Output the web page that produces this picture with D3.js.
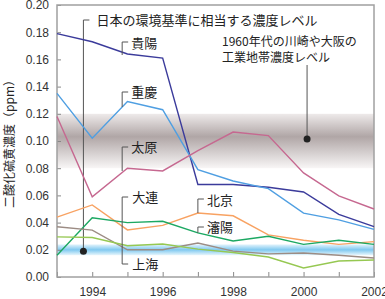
<!DOCTYPE html>
<html>
<head>
<meta charset="utf-8">
<script src="https://cdn.jsdelivr.net/npm/d3@7"></script>
<style>
  body { margin: 0; background: #fff; }
  svg text { font-family: "Liberation Sans", Arial, sans-serif; fill: #333; }
  .jp { font-family: "Noto Sans CJK JP", sans-serif; fill: #222; }
</style>
</head>
<body>
<div id="chart"></div>
<script>
var years = [1993, 1994, 1995, 1996, 1997, 1998, 1999, 2000, 2001, 2002];

var guiyang   = [0.179, 0.173, 0.164, 0.161, 0.068, 0.068, 0.066, 0.0625, 0.046, 0.037];
var chongqing = [0.135, 0.102, 0.129, 0.123, 0.079, 0.0706, 0.065, 0.047, 0.042, 0.035];
var taiyuan   = [0.118, 0.059, 0.080, 0.078, 0.093, 0.1066, 0.104, 0.0765, 0.0596, 0.050];
var beijing   = [0.044, 0.053, 0.0346, 0.038, 0.047, 0.045, 0.031, 0.027, 0.024, 0.026];
var shenyang  = [0.016, 0.0435, 0.040, 0.041, 0.0324, 0.0265, 0.030, 0.024, 0.027, 0.024];
var dalian    = [0.037, 0.0345, 0.020, 0.020, 0.025, 0.019, 0.017, 0.0176, 0.016, 0.014];
var shanghai  = [0.0295, 0.029, 0.023, 0.0243, 0.0205, 0.018, 0.0147, 0.0066, 0.0118, 0.0125];

var seriesNames = ["貴陽", "重慶", "太原", "北京", "瀋陽", "大連", "上海"];
var seriesValues = [guiyang, chongqing, taiyuan, beijing, shenyang, dalian, shanghai];
var seriesColors = ["#3b3b9b", "#4f9fe2", "#c66890", "#f8a262", "#1ca862", "#9c8c84", "#96c852"];

var yTicks = [0, 0.02, 0.04, 0.06, 0.08, 0.10, 0.12, 0.14, 0.16, 0.18, 0.20];
var xLabelYears = [1994, 1996, 1998, 2000, 2002];

var japanBand = [0.016, 0.024];
var kawasakiBand = [0.08, 0.12];

var W = 385, H = 299;
var margin = {top: 5, right: 11, bottom: 22, left: 57},
    width = W - margin.left - margin.right,
    height = H - margin.top - margin.bottom;

var x = d3.scaleLinear().domain([1993, 2002]).range([0, width]);
var y = d3.scaleLinear().domain([0, 0.2]).range([height, 0]);

var svg = d3.select("#chart").append("svg")
    .attr("width", W)
    .attr("height", H);

var defs = svg.append("defs");

var g1 = defs.append("linearGradient").attr("id", "greyBand")
    .attr("x1", 0).attr("y1", 0).attr("x2", 0).attr("y2", 1);
g1.append("stop").attr("offset", "0%").attr("stop-color", "#eeeaea");
g1.append("stop").attr("offset", "42%").attr("stop-color", "#b0a6a6");
g1.append("stop").attr("offset", "100%").attr("stop-color", "#f8f6f6");

var g2 = defs.append("linearGradient").attr("id", "blueBand")
    .attr("x1", 0).attr("y1", 0).attr("x2", 0).attr("y2", 1);
g2.append("stop").attr("offset", "0%").attr("stop-color", "#e4f4fc");
g2.append("stop").attr("offset", "50%").attr("stop-color", "#80c9f0");
g2.append("stop").attr("offset", "100%").attr("stop-color", "#e8f6fc");

var plot = svg.append("g")
    .attr("transform", "translate(" + margin.left + "," + margin.top + ")");

// bands
plot.append("rect")
    .attr("x", 0).attr("width", width)
    .attr("y", y(kawasakiBand[1])).attr("height", y(kawasakiBand[0]) - y(kawasakiBand[1]))
    .style("fill", "url(#greyBand)");
plot.append("rect")
    .attr("x", 0).attr("width", width)
    .attr("y", y(japanBand[1])).attr("height", y(japanBand[0]) - y(japanBand[1]))
    .style("fill", "url(#blueBand)");

// axes
var yAxis = plot.append("g")
    .call(d3.axisLeft(y).tickValues(yTicks).tickSizeInner(-4).tickSizeOuter(0).tickPadding(8)
      .tickFormat(d3.format(".2f")));
yAxis.select(".domain").remove();
yAxis.selectAll("line").attr("stroke", "#888");
yAxis.selectAll("text").style("font-size", "12px").attr("fill", "#333");

var xAxis = plot.append("g")
    .attr("transform", "translate(0," + height + ")")
    .call(d3.axisBottom(x).tickValues(years).tickSizeInner(-5).tickSizeOuter(0).tickPadding(10)
      .tickFormat(function(d) { return xLabelYears.indexOf(d) >= 0 ? d : ""; }));
xAxis.select(".domain").remove();
xAxis.selectAll("line").attr("stroke", "#888");
xAxis.selectAll("text").style("font-size", "12px").attr("fill", "#333");

// frame
plot.append("rect")
    .attr("x", 0).attr("y", 0).attr("width", width).attr("height", height)
    .attr("fill", "none").attr("stroke", "#a0a0a0").attr("stroke-width", 1.5);

// leader helper
function leader(pts) {
  plot.append("path")
    .attr("d", d3.line()(pts))
    .attr("fill", "none").attr("stroke", "#555").attr("stroke-width", 1);
}

// annotation leaders
leader([[x(1993.75) + 6, 15], [x(1993.75), 15], [x(1993.75), y(0.019)]]);
plot.append("circle").attr("cx", x(1993.75)).attr("cy", y(0.019)).attr("r", 3.5).attr("fill", "#222");
leader([[x(2000.1), 60], [x(2000.1), y(0.1015)]]);
plot.append("circle").attr("cx", x(2000.1)).attr("cy", y(0.1015)).attr("r", 3.5).attr("fill", "#222");

// lines
var line = d3.line()
    .x(function(d, i) { return x(years[i]); })
    .y(function(d) { return y(d); });

seriesValues.forEach(function(vals, k) {
  plot.append("path")
    .datum(vals)
    .attr("d", line)
    .attr("fill", "none")
    .attr("stroke", seriesColors[k])
    .attr("stroke-width", 1.4);
});

// series label leaders
var lx1 = x(1994.85), lx2 = x(1997.0);
leader([[lx1 + 6, 37], [lx1, 37], [lx1, 50]]);
leader([[lx1 + 6, 87], [lx1, 87], [lx1, 102]]);
leader([[lx1 + 6, 142], [lx1, 142], [lx1, 166]]);
leader([[lx1 + 6, 192], [lx1, 192], [lx1, 259], [lx1 + 6, 259]]);
leader([[lx2 + 6, 194], [lx2, 194], [lx2, 208]]);
leader([[lx2 + 6, 222], [lx2, 222], [lx2, 228]]);

function label(txt, px, py, size) {
  plot.append("text").attr("class", "jp")
    .attr("x", px).attr("y", py)
    .attr("dy", "0.35em")
    .style("font-size", size + "px")
    .text(txt);
}
label(seriesNames[0], lx1 + 9, 38, 13);
label(seriesNames[1], lx1 + 9, 87, 13);
label(seriesNames[2], lx1 + 9, 142, 13);
label(seriesNames[5], lx1 + 10, 192, 13);
label(seriesNames[6], lx1 + 10, 259, 13);
label(seriesNames[3], lx2 + 9, 195, 13);
label(seriesNames[4], lx2 + 9, 222, 13);

label("日本の環境基準に相当する濃度レベル", x(1993.75) + 13, 15, 13);
label("1960年代の川崎や大阪の", 165, 37, 12);
label("工業地帯濃度レベル", 165, 53, 12);

// y title
svg.append("text").attr("class", "jp")
    .attr("transform", "translate(10," + (margin.top + height / 2) + ") rotate(-90)")
    .attr("text-anchor", "middle")
    .attr("dy", "0.35em")
    .style("font-size", "12px")
    .text("二酸化硫黄濃度（ppm）");
</script>
</body>
</html>
